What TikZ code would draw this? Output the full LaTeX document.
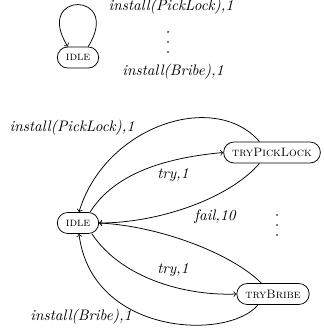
\documentclass[tikz,border=0pt]{standalone}
\usetikzlibrary{calc}

\begin{document}
\begin{tikzpicture}[x=0.658pt, y=0.658pt, line width=0.5pt,
  state/.style={draw, rounded corners=6.8pt, inner xsep=5.6pt, inner ysep=0pt,
                minimum height=13.8pt, font=\footnotesize\scshape},
  lbl/.style={font=\itshape, inner sep=0pt},
  trans/.style={->},
  dot/.style={radius=0.65pt}]
\useasboundingbox (0,0) rectangle (323,-329);

% upper part: the single idle state with its self loop
\node[state] (t) at (78,-57.5) {idle};
\draw[trans] (t.47) .. controls ($(t.47)+(35,56)$) and ($(t.133)+(-35,56)$) .. (t.133);
\node[lbl] (l1) at (171,-7) {install(PickLock),1};
\coordinate (d1) at (168,-42);
\fill ($(d1)+(0,10)$) circle[dot] (d1) circle[dot] ($(d1)+(0,-10)$) circle[dot];
\node[lbl] (l2) at (173,-72) {install(Bribe),1};

% lower part: idle with the two attempt states
\node[state] (i) at (78,-223) {idle};
\node[state] (pl) at (272,-152.5) {tryPickLock};
\node[state] (br) at (273,-294) {tryBribe};

\draw[trans] (pl.139) .. controls ($(pl.139)+(-45,52)$) and ($(i.85)+(26,86)$) .. (i.85);
\draw[trans] (i.42) .. controls ($(i.42)+(25,40)$) and ($(pl.180)+(-55,-5)$) .. (pl.180);
\draw[trans] (pl.221) .. controls ($(pl.221)+(-30,-35)$) and ($(i.0)+(60,0)$) .. (i.0);
\draw[trans] (br.137) .. controls ($(br.137)+(-30,30)$) and ($(i.0)+(60,-3)$) .. (i.0);
\draw[trans] (i.-38) .. controls ($(i.-38)+(30,-45)$) and ($(br.180)+(-50,-2)$) .. (br.180);
\draw[trans] (br.216) .. controls ($(br.216)+(-30,-36)$) and ($(i.-85)+(13,-102)$) .. (i.-85);

\node[lbl] (l3) at (72,-128) {install(PickLock),1};
\node[lbl] (l4) at (173,-175) {try,1};
\node[lbl] (l5) at (215,-217) {fail,10};
\coordinate (d2) at (277,-225);
\fill ($(d2)+(0,10)$) circle[dot] (d2) circle[dot] ($(d2)+(0,-10)$) circle[dot];
\node[lbl] (l6) at (173,-270) {try,1};
\node[lbl] (l7) at (81,-317) {install(Bribe),1};
\end{tikzpicture}
\end{document}
